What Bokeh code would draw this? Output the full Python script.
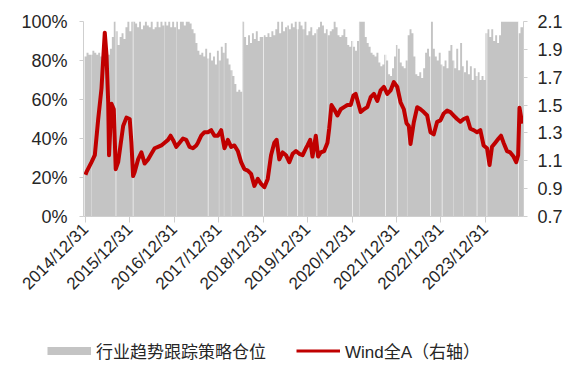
import pandas as pd
from bokeh.plotting import figure
from bokeh.layouts import column
from bokeh.models import (Range1d, LinearAxis, FixedTicker, NumeralTickFormatter,
                          DatetimeTickFormatter, Legend, LegendItem)
from bokeh.embed import file_html
from bokeh.resources import INLINE

# ---------------- data ----------------
# Industry-trend strategy position (%), one reading every 16 days from 2015-01-01
position_start = "2015-01-01"
position_step = "16D"
position_pct = [
    82, 84, 83, 83, 85, 84, 83, 84, 82, 83,
    85, 84, 83, 86, 92, 100, 95, 88, 92, 94,
    91, 97, 100, 95, 100, 100, 99, 97, 100, 96,
    98, 100, 98, 97, 100, 96, 97, 100, 97, 100,
    98, 100, 98, 100, 97, 100, 97, 100, 96, 100,
    100, 98, 100, 100, 99, 96, 94, 89, 85, 83,
    84, 82, 86, 81, 84, 80, 82, 78, 85, 80,
    87, 84, 89, 81, 78, 75, 72, 68, 64, 65,
    64, 100, 92, 88, 93, 89, 94, 91, 95, 90,
    92, 92, 93, 92, 94, 92, 95, 93, 96, 100,
    94, 100, 95, 97, 98, 96, 99, 97, 100, 96,
    100, 98, 96, 100, 93, 95, 97, 93, 94, 96,
    97, 100, 98, 94, 96, 93, 95, 96, 100, 97,
    93, 92, 93, 96, 92, 88, 87, 90, 87, 85,
    90, 100, 100, 100, 92, 89, 87, 84, 83, 82,
    84, 79, 77, 78, 83, 80, 73, 72, 76, 82,
    88, 86, 79, 77, 76, 80, 93, 96, 94, 82,
    73, 72, 74, 71, 76, 84, 86, 82, 100, 86,
    82, 80, 84, 78, 77, 80, 76, 85, 88, 80,
    76, 86, 75, 89, 77, 74, 80, 73, 77, 70,
    76, 72, 74, 70, 72, 70, 94, 96, 92, 96,
    90, 93, 89, 93, 100, 100, 100, 100, 100, 100,
    100, 100, 100, 94, 97, 97,
]

# Breaks without a position reading (holidays etc.)
gap_dates_main = ["2015-09-08", "2016-01-27", "2017-10-05", "2018-07-17", "2019-01-03",
                  "2019-10-11", "2020-03-17", "2021-01-03", "2021-10-03", "2022-01-07",
                  "2022-10-07", "2023-01-11", "2023-10-25", "2024-01-14", "2024-09-30"]
gap_dates_faint = ["2015-02-19", "2016-10-10", "2017-01-16", "2018-01-03", "2018-02-13",
                   "2018-04-12", "2019-07-21", "2019-12-01", "2020-06-12", "2021-03-04",
                   "2022-03-30", "2023-04-14", "2023-07-05"]

# Wind All-A index, normalised (right axis)
wind_dates = [
    "2014-12-31", "2015-01-09", "2015-02-19", "2015-03-18", "2015-04-15", "2015-05-12",
    "2015-05-26", "2015-06-08", "2015-06-22", "2015-07-06", "2015-07-13", "2015-08-02",
    "2015-08-21", "2015-09-06", "2015-09-26", "2015-10-15", "2015-11-06", "2015-12-03",
    "2015-12-30", "2016-01-13", "2016-01-27", "2016-02-09", "2016-03-08", "2016-04-04",
    "2016-05-01", "2016-05-29", "2016-06-25", "2016-07-22", "2016-08-19", "2016-09-15",
    "2016-10-12", "2016-11-09", "2016-11-30", "2016-12-20", "2017-01-16", "2017-02-12",
    "2017-03-12", "2017-04-08", "2017-05-05", "2017-06-02", "2017-06-29", "2017-07-13",
    "2017-08-09", "2017-09-05", "2017-10-03", "2017-10-30", "2017-11-26", "2017-12-24",
    "2018-01-20", "2018-02-16", "2018-03-16", "2018-04-12", "2018-05-09", "2018-06-06",
    "2018-07-03", "2018-07-30", "2018-08-27", "2018-09-23", "2018-10-20", "2018-11-17",
    "2018-12-14", "2019-01-10", "2019-02-07", "2019-03-06", "2019-04-02", "2019-04-21",
    "2019-05-13", "2019-06-10", "2019-07-07", "2019-08-03", "2019-08-31", "2019-09-27",
    "2019-10-24", "2019-11-21", "2019-12-18", "2019-12-31", "2020-01-22", "2020-02-10",
    "2020-03-08", "2020-03-27", "2020-04-18", "2020-05-16", "2020-06-12", "2020-06-26",
    "2020-07-15", "2020-08-06", "2020-09-02", "2020-09-29", "2020-10-26", "2020-11-23",
    "2020-12-20", "2021-01-12", "2021-01-30", "2021-02-18", "2021-03-12", "2021-04-08",
    "2021-05-06", "2021-06-02", "2021-06-29", "2021-07-27", "2021-08-23", "2021-09-19",
    "2021-10-17", "2021-11-13", "2021-12-10", "2022-01-07", "2022-02-03", "2022-03-02",
    "2022-03-24", "2022-04-12", "2022-04-26", "2022-05-23", "2022-06-20", "2022-07-17",
    "2022-08-13", "2022-09-10", "2022-10-07", "2022-11-03", "2022-12-01", "2022-12-28",
    "2023-01-24", "2023-02-21", "2023-03-20", "2023-04-16", "2023-05-14", "2023-06-10",
    "2023-07-07", "2023-08-04", "2023-08-31", "2023-09-27", "2023-10-25", "2023-11-21",
    "2023-12-18", "2024-01-15", "2024-02-05", "2024-02-25", "2024-03-23", "2024-04-19",
    "2024-05-09", "2024-05-30", "2024-06-27", "2024-07-24", "2024-08-20", "2024-09-11",
    "2024-09-27", "2024-10-08", "2024-10-28", "2024-11-10",
]
wind_values = [
    1.00, 1.02, 1.09, 1.14, 1.40, 1.62,
    1.83, 2.02, 1.86, 1.52, 1.14, 1.51,
    1.47, 1.04, 1.09, 1.21, 1.35, 1.41,
    1.40, 1.23, 0.99, 1.02, 1.11, 1.16,
    1.08, 1.11, 1.15, 1.19, 1.20, 1.21,
    1.23, 1.25, 1.28, 1.25, 1.20, 1.23,
    1.26, 1.25, 1.20, 1.19, 1.21, 1.23,
    1.28, 1.305, 1.305, 1.32, 1.28, 1.28,
    1.32, 1.19, 1.25, 1.20, 1.21, 1.17,
    1.09, 1.04, 1.03, 1.006, 0.92, 0.97,
    0.935, 0.91, 0.97, 1.14, 1.23, 1.25,
    1.11, 1.16, 1.14, 1.09, 1.15, 1.17,
    1.15, 1.14, 1.19, 1.21, 1.25, 1.13,
    1.28, 1.13, 1.16, 1.17, 1.23, 1.33,
    1.50, 1.47, 1.425, 1.47, 1.485, 1.50,
    1.50, 1.57, 1.58, 1.52, 1.45, 1.47,
    1.485, 1.556, 1.58, 1.53, 1.605, 1.63,
    1.58, 1.605, 1.665, 1.63, 1.52, 1.47,
    1.37, 1.35, 1.22, 1.377, 1.485, 1.47,
    1.45, 1.425, 1.305, 1.29, 1.38, 1.39,
    1.44, 1.46, 1.45, 1.425, 1.40, 1.38,
    1.40, 1.41, 1.33, 1.32, 1.305, 1.32,
    1.21, 1.19, 1.07, 1.20, 1.23, 1.26,
    1.28, 1.23, 1.17, 1.16, 1.13, 1.09,
    1.14, 1.48, 1.38, 1.42,
]

year_ticks = ["2014-12-31", "2015-12-31", "2016-12-31", "2017-12-31", "2018-12-31",
              "2019-12-31", "2020-12-31", "2021-12-31", "2022-12-31", "2023-12-31"]
left_ticks = [0, 0.2, 0.4, 0.6, 0.8, 1.0]
right_ticks = [0.7, 0.9, 1.1, 1.3, 1.5, 1.7, 1.9, 2.1]

label_position = "行业趋势跟踪策略仓位"
label_wind = "Wind全A（右轴）"

# ---------------- chart ----------------
FONT = "Liberation Sans, Noto Sans CJK SC"
TEXT = "#262626"
AXIS = "#CFCFCF"
GREY = "#C4C4C4"
RED = "#C00000"

pos_dates = pd.date_range(position_start, periods=len(position_pct), freq=position_step)
half = pd.Timedelta(days=8)
step_x, step_y = [], []
for d, v in zip(pos_dates, position_pct):
    step_x += [d - half, d + half]
    step_y += [v / 100, v / 100]

p = figure(width=568, height=320, x_axis_type="datetime", output_backend="svg",
           toolbar_location=None, min_border_left=83, min_border_right=45,
           min_border_top=21, min_border_bottom=104,
           x_range=Range1d(pd.Timestamp("2014-12-15"), pd.Timestamp("2024-11-10")),
           y_range=Range1d(0, 1))
p.outline_line_color = None
p.xgrid.visible = False
p.ygrid.visible = False

p.varea(x=step_x, y1=0, y2=step_y, fill_color=GREY)
DAY_MS = 86400000
p.vbar(x=pd.to_datetime(gap_dates_main), top=1.0, bottom=0, width=6 * DAY_MS,
       fill_color="white", fill_alpha=0.85, line_color=None)
p.vbar(x=pd.to_datetime(gap_dates_faint), top=1.0, bottom=0, width=5 * DAY_MS,
       fill_color="white", fill_alpha=0.45, line_color=None)

p.extra_y_ranges = {"idx": Range1d(0.7, 2.1)}
p.line(x=pd.to_datetime(wind_dates), y=wind_values, y_range_name="idx",
       line_color=RED, line_width=4, line_join="round")

# axes
xa = p.xaxis[0]
xa.ticker = FixedTicker(ticks=[int(t.value // 10**6) for t in pd.to_datetime(year_ticks)])
fmt = "%Y/%m/%d"
xa.formatter = DatetimeTickFormatter(milliseconds=fmt, seconds=fmt, minsec=fmt, minutes=fmt,
                                     hourmin=fmt, hours=fmt, days=fmt, months=fmt, years=fmt)
xa.major_label_orientation = 0.785398
xa.major_label_text_font = FONT
xa.major_label_text_font_size = "17px"
xa.major_label_text_color = TEXT
xa.axis_line_color = AXIS
xa.major_tick_line_color = AXIS
xa.major_tick_out = 6
xa.major_tick_in = 0
xa.minor_tick_line_color = None
xa.major_label_standoff = 4

ya = p.yaxis[0]
ya.ticker = FixedTicker(ticks=left_ticks)
ya.formatter = NumeralTickFormatter(format="0%")

ra = LinearAxis(y_range_name="idx", ticker=FixedTicker(ticks=right_ticks),
                formatter=NumeralTickFormatter(format="0.0"))
p.add_layout(ra, "right")

for ax, standoff in ((ya, 12), (ra, 10)):
    ax.major_label_text_font = FONT
    ax.major_label_text_font_size = "18px"
    ax.major_label_text_color = TEXT
    ax.axis_line_color = AXIS
    ax.major_tick_line_color = AXIS
    ax.major_tick_out = 4
    ax.major_tick_in = 0
    ax.minor_tick_line_color = None
    ax.major_label_standoff = standoff

# legend strip below the chart (key renderers hold no drawable data)
nan = float("nan")
lg = figure(width=568, height=45, output_backend="svg", toolbar_location=None,
            x_axis_location=None, y_axis_location=None, min_border=0,
            x_range=Range1d(0, 1), y_range=Range1d(0, 1))
lg.outline_line_color = None
lg.xgrid.visible = False
lg.ygrid.visible = False
legend_x = -36
if "frame_align" in lg.properties():
    lg.frame_align = False
    legend_x = 47
key_area = lg.line(x=[nan], y=[nan], line_color=GREY, line_width=8, line_cap="butt")
key_line = lg.line(x=[nan], y=[nan], line_color=RED, line_width=3)
legend = Legend(items=[LegendItem(label=label_position, renderers=[key_area]),
                       LegendItem(label=label_wind, renderers=[key_line])],
                orientation="horizontal", location=(legend_x, 2),
                glyph_width=44, glyph_height=9, label_standoff=5, spacing=30,
                padding=0, margin=0, border_line_color=None, background_fill_alpha=0,
                label_text_font=FONT, label_text_font_size="17px",
                label_text_color=TEXT)
lg.add_layout(legend)

open("out.html", "w").write(file_html(column(p, lg, spacing=0), INLINE))
